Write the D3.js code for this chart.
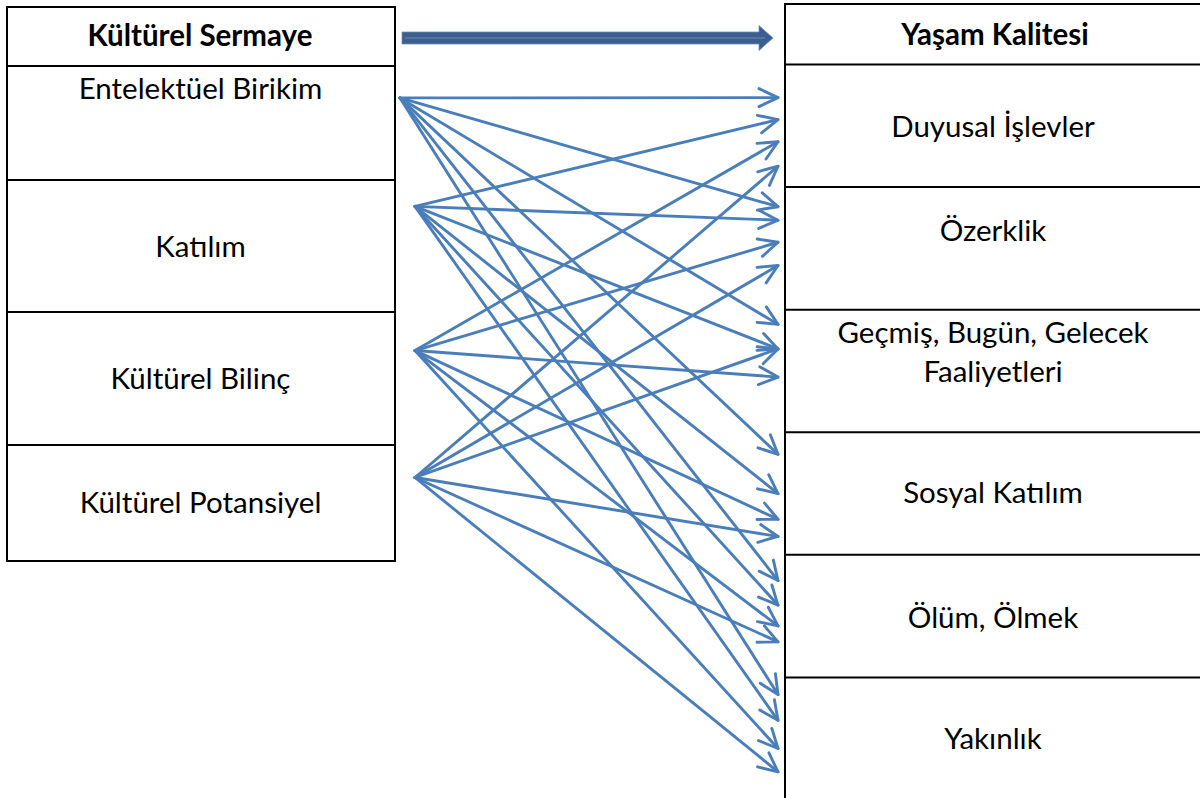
<!DOCTYPE html>
<html>
<head>
<meta charset="utf-8">
<title>Kültürel Sermaye - Yaşam Kalitesi</title>
<script src="https://cdn.jsdelivr.net/npm/d3@7"></script>
<style>
	body { margin: 0; background: #fff; }
	svg { display: block; font-family: Lato, "Open Sans", sans-serif; }
</style>
</head>
<body>

<svg id="chart" width="1200" height="798"></svg>

<script>
	var leftHeader = 'Kültürel Sermaye'
	var rightHeader = 'Yaşam Kalitesi'

	var sources = ['Entelektüel Birikim', 'Katılım', 'Kültürel Bilinç', 'Kültürel Potansiyel']
	var targets = ['Duyusal İşlevler', 'Özerklik', ['Geçmiş, Bugün, Gelecek', 'Faaliyetleri'], 'Sosyal Katılım', 'Ölüm, Ölmek', 'Yakınlık']

	// arrow start, fraction down each left row
	var sourceAt = [0.28, 0.2, 0.29, 0.28]
	// arrow end for each source, in right-row units (row index + fraction)
	var arrowsTo = [
		[0.27, 1.16, 2.12, 3.18, 4.21, 5.14],
		[0.45, 1.27, 2.32, 3.50, 4.41, 5.35],
		[0.63, 1.45, 2.55, 3.71, 4.58, 5.58],
		[0.83, 1.64, 2.32, 3.85, 4.71, 5.77]
	]

	// label baselines, fraction down each row
	var sourceLabelAt = [0.29, 0.58, 0.58, 0.59]
	var targetLabelAt = [0.59, 0.44, 0.27, 0.58, 0.6, 0.58]

	var svg = d3.select('#chart')
	var lineColor = '#4a7ebb'

	// left table
	var left = {x0: 7, x1: 395, top: 7}
	var yLeft = d3.scaleLinear()
		.domain(d3.range(sources.length + 1))
		.range([66, 180, 312, 445, 561])

	// right table, runs off the page on the right and bottom
	var right = {x0: 785, x1: 1202, top: 4}
	var yRight = d3.scaleLinear()
		.domain([0, targets.length])
		.range([64.5, 800])

	var grid = svg.append('g').attr('stroke', '#000').attr('stroke-width', 2).attr('fill', 'none')

	grid.append('rect')
		.attr('x', left.x0).attr('y', left.top)
		.attr('width', left.x1 - left.x0).attr('height', yLeft(sources.length) - left.top)
	grid.selectAll('.lrow').data(d3.range(sources.length)).enter()
		.append('line')
		.attr('x1', left.x0).attr('x2', left.x1)
		.attr('y1', function(d) {return yLeft(d)}).attr('y2', function(d) {return yLeft(d)})

	grid.append('path')
		.attr('d', 'M' + right.x1 + ',' + right.top + 'H' + right.x0 + 'V800')
	grid.selectAll('.rrow').data(d3.range(targets.length)).enter()
		.append('line')
		.attr('x1', right.x0).attr('x2', right.x1)
		.attr('y1', function(d) {return yRight(d)}).attr('y2', function(d) {return yRight(d)})

	// texts
	var fs = 29.5
	svg.append('text')
		.attr('x', 200).attr('y', 46)
		.attr('text-anchor', 'middle').attr('font-weight', 'bold').attr('font-size', fs)
		.text(leftHeader)
	svg.append('text')
		.attr('x', 995).attr('y', 45)
		.attr('text-anchor', 'middle').attr('font-weight', 'bold').attr('font-size', fs)
		.text(rightHeader)

	svg.selectAll('.src').data(sources).enter()
		.append('text')
		.attr('x', 200.5)
		.attr('y', function(d, i) {return yLeft(i + sourceLabelAt[i])})
		.attr('text-anchor', 'middle').attr('font-size', fs)
		.text(function(d) {return d})

	var tg = svg.selectAll('.tgt').data(targets).enter()
		.append('text')
		.attr('x', 993)
		.attr('y', function(d, i) {return yRight(i + targetLabelAt[i])})
		.attr('text-anchor', 'middle').attr('font-size', fs)
	tg.each(function(d) {
		var lines = Array.isArray(d) ? d : [d]
		var t = d3.select(this)
		lines.forEach(function(s, k) {
			t.append('tspan').attr('x', 993).attr('dy', k ? 39 : 0).text(s)
		})
	})

	// big header arrow
	var big = {x0: 402, x1: 773, y: 38, shaft: 12, head: 14, headH: 25}
	svg.append('path')
		.attr('d', 'M' + big.x0 + ',' + (big.y - big.shaft / 2)
			+ 'H' + (big.x1 - big.head) + 'V' + (big.y - big.headH / 2)
			+ 'L' + big.x1 + ',' + big.y
			+ 'L' + (big.x1 - big.head) + ',' + (big.y + big.headH / 2)
			+ 'V' + (big.y + big.shaft / 2) + 'H' + big.x0 + 'Z')
		.attr('fill', '#3b5e8c').attr('stroke', '#6d8fbd').attr('stroke-width', 0.8)
	svg.append('line')
		.attr('x1', big.x0 + 3).attr('x2', big.x1 - 8)
		.attr('y1', big.y).attr('y2', big.y)
		.attr('stroke', '#5f8bc8').attr('stroke-width', 1.2)

	// links
	var startX = function(i) {return i === 0 ? 400 : 415}
	var tipX = 778
	var links = []
	arrowsTo.forEach(function(row, i) {
		row.forEach(function(t) {
			links.push({x1: startX(i), y1: yLeft(i + sourceAt[i]), x2: tipX, y2: yRight(t)})
		})
	})

	var lg = svg.append('g')
		.attr('stroke', lineColor).attr('stroke-width', 2.9).attr('fill', 'none')
		.attr('stroke-linecap', 'round').attr('stroke-linejoin', 'round')

	lg.selectAll('.link').data(links).enter()
		.append('line')
		.attr('x1', function(d) {return d.x1}).attr('y1', function(d) {return d.y1})
		.attr('x2', function(d) {return d.x2}).attr('y2', function(d) {return d.y2})

	lg.selectAll('.head').data(links).enter()
		.append('path')
		.attr('d', 'M-19,-9L0,0L-19,9')
		.attr('transform', function(d) {
			var a = Math.atan2(d.y2 - d.y1, d.x2 - d.x1) * 180 / Math.PI
			return 'translate(' + d.x2 + ',' + d.y2 + ') rotate(' + a + ')'
		})
</script>

</body>
</html>
